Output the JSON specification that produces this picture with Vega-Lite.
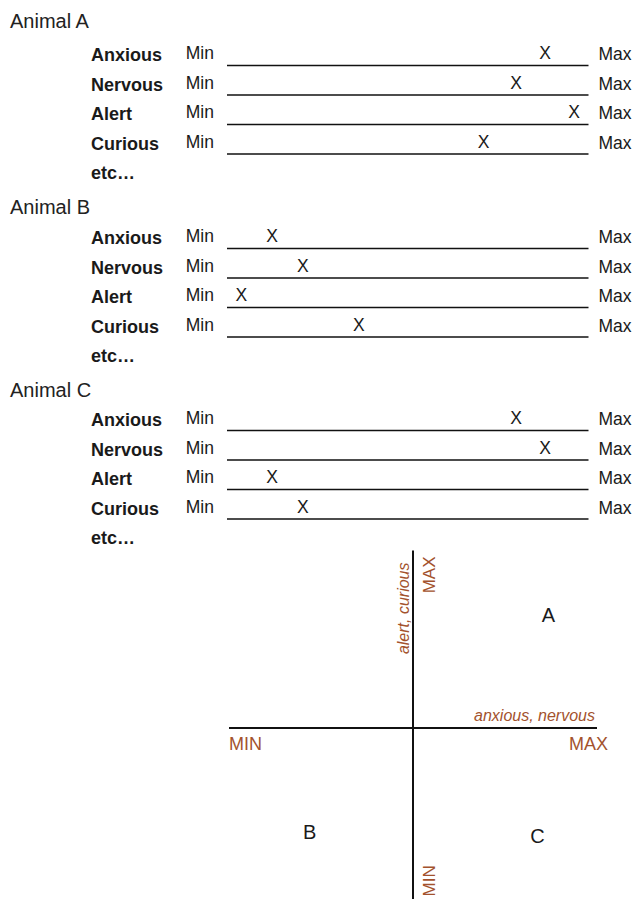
{
  "$schema": "https://vega.github.io/schema/vega-lite/v6.json",
  "padding": 0,
  "spacing": 0,
  "bounds": "flush",
  "background": "white",
  "config": {"view": {"stroke": null}, "axis": {"disable": true}, "text": {"font": "Liberation Sans"}},
  "datasets": {
    "animals": [
      {"animal": "A", "label": "Animal A"},
      {"animal": "B", "label": "Animal B"},
      {"animal": "C", "label": "Animal C"}
    ],
    "ratings": [
      {"animal": "A", "trait": "Anxious", "order": 1, "value": 8.8},
      {"animal": "A", "trait": "Nervous", "order": 2, "value": 8.0},
      {"animal": "A", "trait": "Alert", "order": 3, "value": 9.6},
      {"animal": "A", "trait": "Curious", "order": 4, "value": 7.1},
      {"animal": "A", "trait": "etc…", "order": 5, "value": null},
      {"animal": "B", "trait": "Anxious", "order": 1, "value": 1.25},
      {"animal": "B", "trait": "Nervous", "order": 2, "value": 2.1},
      {"animal": "B", "trait": "Alert", "order": 3, "value": 0.4},
      {"animal": "B", "trait": "Curious", "order": 4, "value": 3.65},
      {"animal": "B", "trait": "etc…", "order": 5, "value": null},
      {"animal": "C", "trait": "Anxious", "order": 1, "value": 8.0},
      {"animal": "C", "trait": "Nervous", "order": 2, "value": 8.8},
      {"animal": "C", "trait": "Alert", "order": 3, "value": 1.25},
      {"animal": "C", "trait": "Curious", "order": 4, "value": 2.1},
      {"animal": "C", "trait": "etc…", "order": 5, "value": null}
    ],
    "quadrant": [
      {"animal": "A", "anxious_nervous": 8.68, "alert_curious": 8.16},
      {"animal": "B", "anxious_nervous": 2.19, "alert_curious": 2.03},
      {"animal": "C", "anxious_nervous": 8.38, "alert_curious": 1.94}
    ],
    "blank": [{}]
  },
  "vconcat": [
    {
      "width": 635, "height": 182.5,
      "layer": [
        {"data": {"name": "animals"}, "transform": [{"filter": "datum.animal === 'A'"}],
         "mark": {"type": "text", "align": "left", "baseline": "alphabetic", "fontSize": 20, "color": "#222", "xOffset": -217, "yOffset": -3},
         "encoding": {"x": {"datum": 0, "type": "quantitative", "scale": {"domain": [0, 10], "range": [227, 588.5], "nice": false, "zero": false}, "axis": null},
                      "y": {"datum": 0, "type": "quantitative", "scale": {"domain": [0, 5], "range": [30.5, 178], "nice": false, "zero": false}, "axis": null},
                      "text": {"field": "label"}}},
        {"data": {"name": "ratings"}, "transform": [{"filter": "datum.animal === 'A'"}],
         "mark": {"type": "text", "align": "left", "baseline": "alphabetic", "fontSize": 18, "fontWeight": "bold", "color": "#1a1a1a", "xOffset": -136, "yOffset": 1},
         "encoding": {"x": {"datum": 0, "type": "quantitative"}, "y": {"field": "order", "type": "quantitative", "axis": null}, "text": {"field": "trait"}}},
        {"data": {"name": "ratings"}, "transform": [{"filter": "datum.animal === 'A' && isValid(datum.value)"}],
         "mark": {"type": "text", "align": "right", "baseline": "alphabetic", "fontSize": 17.5, "color": "#1a1a1a", "xOffset": -13, "yOffset": -1},
         "encoding": {"x": {"datum": 0, "type": "quantitative"}, "y": {"field": "order", "type": "quantitative"}, "text": {"value": "Min"}}},
        {"data": {"name": "ratings"}, "transform": [{"filter": "datum.animal === 'A' && isValid(datum.value)"}],
         "mark": {"type": "text", "align": "left", "baseline": "alphabetic", "fontSize": 17.5, "color": "#1a1a1a", "xOffset": 10, "yOffset": 0},
         "encoding": {"x": {"datum": 10, "type": "quantitative"}, "y": {"field": "order", "type": "quantitative"}, "text": {"value": "Max"}}},
        {"data": {"name": "ratings"}, "transform": [{"filter": "datum.animal === 'A' && isValid(datum.value)"}],
         "mark": {"type": "rule", "color": "#111", "strokeWidth": 1.3, "yOffset": 5.5},
         "encoding": {"x": {"datum": 0, "type": "quantitative"}, "x2": {"datum": 10}, "y": {"field": "order", "type": "quantitative"}}},
        {"data": {"name": "ratings"}, "transform": [{"filter": "datum.animal === 'A' && isValid(datum.value)"}],
         "mark": {"type": "text", "align": "center", "baseline": "alphabetic", "fontSize": 17.5, "color": "#1a1a1a", "yOffset": -1},
         "encoding": {"x": {"field": "value", "type": "quantitative"}, "y": {"field": "order", "type": "quantitative"}, "text": {"value": "X"}}}
      ]
    },
    {
      "width": 635, "height": 182.5,
      "layer": [
        {"data": {"name": "animals"}, "transform": [{"filter": "datum.animal === 'B'"}],
         "mark": {"type": "text", "align": "left", "baseline": "alphabetic", "fontSize": 20, "color": "#222", "xOffset": -217, "yOffset": 0},
         "encoding": {"x": {"datum": 0, "type": "quantitative", "scale": {"domain": [0, 10], "range": [227, 588.5], "nice": false, "zero": false}, "axis": null},
                      "y": {"datum": 0, "type": "quantitative", "scale": {"domain": [0, 5], "range": [30.5, 178], "nice": false, "zero": false}, "axis": null},
                      "text": {"field": "label"}}},
        {"data": {"name": "ratings"}, "transform": [{"filter": "datum.animal === 'B'"}],
         "mark": {"type": "text", "align": "left", "baseline": "alphabetic", "fontSize": 18, "fontWeight": "bold", "color": "#1a1a1a", "xOffset": -136, "yOffset": 1},
         "encoding": {"x": {"datum": 0, "type": "quantitative"}, "y": {"field": "order", "type": "quantitative", "axis": null}, "text": {"field": "trait"}}},
        {"data": {"name": "ratings"}, "transform": [{"filter": "datum.animal === 'B' && isValid(datum.value)"}],
         "mark": {"type": "text", "align": "right", "baseline": "alphabetic", "fontSize": 17.5, "color": "#1a1a1a", "xOffset": -13, "yOffset": -1},
         "encoding": {"x": {"datum": 0, "type": "quantitative"}, "y": {"field": "order", "type": "quantitative"}, "text": {"value": "Min"}}},
        {"data": {"name": "ratings"}, "transform": [{"filter": "datum.animal === 'B' && isValid(datum.value)"}],
         "mark": {"type": "text", "align": "left", "baseline": "alphabetic", "fontSize": 17.5, "color": "#1a1a1a", "xOffset": 10, "yOffset": 0},
         "encoding": {"x": {"datum": 10, "type": "quantitative"}, "y": {"field": "order", "type": "quantitative"}, "text": {"value": "Max"}}},
        {"data": {"name": "ratings"}, "transform": [{"filter": "datum.animal === 'B' && isValid(datum.value)"}],
         "mark": {"type": "rule", "color": "#111", "strokeWidth": 1.3, "yOffset": 5.5},
         "encoding": {"x": {"datum": 0, "type": "quantitative"}, "x2": {"datum": 10}, "y": {"field": "order", "type": "quantitative"}}},
        {"data": {"name": "ratings"}, "transform": [{"filter": "datum.animal === 'B' && isValid(datum.value)"}],
         "mark": {"type": "text", "align": "center", "baseline": "alphabetic", "fontSize": 17.5, "color": "#1a1a1a", "yOffset": -1},
         "encoding": {"x": {"field": "value", "type": "quantitative"}, "y": {"field": "order", "type": "quantitative"}, "text": {"value": "X"}}}
      ]
    },
    {
      "width": 635, "height": 182.5,
      "layer": [
        {"data": {"name": "animals"}, "transform": [{"filter": "datum.animal === 'C'"}],
         "mark": {"type": "text", "align": "left", "baseline": "alphabetic", "fontSize": 20, "color": "#222", "xOffset": -217, "yOffset": 0.5},
         "encoding": {"x": {"datum": 0, "type": "quantitative", "scale": {"domain": [0, 10], "range": [227, 588.5], "nice": false, "zero": false}, "axis": null},
                      "y": {"datum": 0, "type": "quantitative", "scale": {"domain": [0, 5], "range": [30.5, 178], "nice": false, "zero": false}, "axis": null},
                      "text": {"field": "label"}}},
        {"data": {"name": "ratings"}, "transform": [{"filter": "datum.animal === 'C'"}],
         "mark": {"type": "text", "align": "left", "baseline": "alphabetic", "fontSize": 18, "fontWeight": "bold", "color": "#1a1a1a", "xOffset": -136, "yOffset": 0},
         "encoding": {"x": {"datum": 0, "type": "quantitative"}, "y": {"field": "order", "type": "quantitative", "axis": null}, "text": {"field": "trait"}}},
        {"data": {"name": "ratings"}, "transform": [{"filter": "datum.animal === 'C' && isValid(datum.value)"}],
         "mark": {"type": "text", "align": "right", "baseline": "alphabetic", "fontSize": 17.5, "color": "#1a1a1a", "xOffset": -13, "yOffset": -2},
         "encoding": {"x": {"datum": 0, "type": "quantitative"}, "y": {"field": "order", "type": "quantitative"}, "text": {"value": "Min"}}},
        {"data": {"name": "ratings"}, "transform": [{"filter": "datum.animal === 'C' && isValid(datum.value)"}],
         "mark": {"type": "text", "align": "left", "baseline": "alphabetic", "fontSize": 17.5, "color": "#1a1a1a", "xOffset": 10, "yOffset": -1},
         "encoding": {"x": {"datum": 10, "type": "quantitative"}, "y": {"field": "order", "type": "quantitative"}, "text": {"value": "Max"}}},
        {"data": {"name": "ratings"}, "transform": [{"filter": "datum.animal === 'C' && isValid(datum.value)"}],
         "mark": {"type": "rule", "color": "#111", "strokeWidth": 1.3, "yOffset": 4.5},
         "encoding": {"x": {"datum": 0, "type": "quantitative"}, "x2": {"datum": 10}, "y": {"field": "order", "type": "quantitative"}}},
        {"data": {"name": "ratings"}, "transform": [{"filter": "datum.animal === 'C' && isValid(datum.value)"}],
         "mark": {"type": "text", "align": "center", "baseline": "alphabetic", "fontSize": 17.5, "color": "#1a1a1a", "yOffset": -2},
         "encoding": {"x": {"field": "value", "type": "quantitative"}, "y": {"field": "order", "type": "quantitative"}, "text": {"value": "X"}}}
      ]
    },
    {
      "width": 635, "height": 351.5,
      "layer": [
        {"data": {"name": "quadrant"},
         "mark": {"type": "text", "align": "center", "baseline": "middle", "fontSize": 20, "color": "#1a1a1a"},
         "encoding": {"x": {"field": "anxious_nervous", "type": "quantitative", "scale": {"domain": [0, 10], "range": [229, 597], "nice": false, "zero": false}, "axis": null},
                      "y": {"field": "alert_curious", "type": "quantitative", "scale": {"domain": [0, 10], "range": [356.5, 1.5], "nice": false, "zero": false}, "axis": null},
                      "text": {"field": "animal"}}},
        {"data": {"name": "blank"},
         "mark": {"type": "rule", "color": "#111", "strokeWidth": 2},
         "encoding": {"x": {"datum": 0, "type": "quantitative"}, "x2": {"datum": 10}, "y": {"datum": 5, "type": "quantitative"}}},
        {"data": {"name": "blank"},
         "mark": {"type": "rule", "color": "#111", "strokeWidth": 2},
         "encoding": {"x": {"datum": 5, "type": "quantitative"}, "y": {"datum": 0, "type": "quantitative"}, "y2": {"datum": 10}}},
        {"data": {"name": "blank"},
         "mark": {"type": "text", "align": "left", "baseline": "alphabetic", "fontSize": 18, "color": "#a3522d", "yOffset": 22},
         "encoding": {"x": {"datum": 0, "type": "quantitative"}, "y": {"datum": 5, "type": "quantitative"}, "text": {"value": "MIN"}}},
        {"data": {"name": "blank"},
         "mark": {"type": "text", "align": "right", "baseline": "alphabetic", "fontSize": 18, "color": "#a3522d", "xOffset": 11, "yOffset": 22},
         "encoding": {"x": {"datum": 10, "type": "quantitative"}, "y": {"datum": 5, "type": "quantitative"}, "text": {"value": "MAX"}}},
        {"data": {"name": "blank"},
         "mark": {"type": "text", "align": "right", "baseline": "alphabetic", "fontSize": 16, "fontStyle": "italic", "color": "#a3522d", "xOffset": -2, "yOffset": -7},
         "encoding": {"x": {"datum": 10, "type": "quantitative"}, "y": {"datum": 5, "type": "quantitative"}, "text": {"value": "anxious, nervous"}}},
        {"data": {"name": "blank"},
         "mark": {"type": "text", "angle": 270, "align": "right", "baseline": "top", "fontSize": 17, "color": "#a3522d", "xOffset": 8.5, "yOffset": 6},
         "encoding": {"x": {"datum": 5, "type": "quantitative"}, "y": {"datum": 10, "type": "quantitative"}, "text": {"value": "MAX"}}},
        {"data": {"name": "blank"},
         "mark": {"type": "text", "angle": 270, "align": "right", "baseline": "alphabetic", "fontSize": 16, "fontStyle": "italic", "color": "#a3522d", "xOffset": -4, "yOffset": 12},
         "encoding": {"x": {"datum": 5, "type": "quantitative"}, "y": {"datum": 10, "type": "quantitative"}, "text": {"value": "alert, curious"}}},
        {"data": {"name": "blank"},
         "mark": {"type": "text", "angle": 270, "align": "left", "baseline": "top", "fontSize": 17, "color": "#a3522d", "xOffset": 8.5, "yOffset": -9},
         "encoding": {"x": {"datum": 5, "type": "quantitative"}, "y": {"datum": 0, "type": "quantitative"}, "text": {"value": "MIN"}}}
      ]
    }
  ]
}
